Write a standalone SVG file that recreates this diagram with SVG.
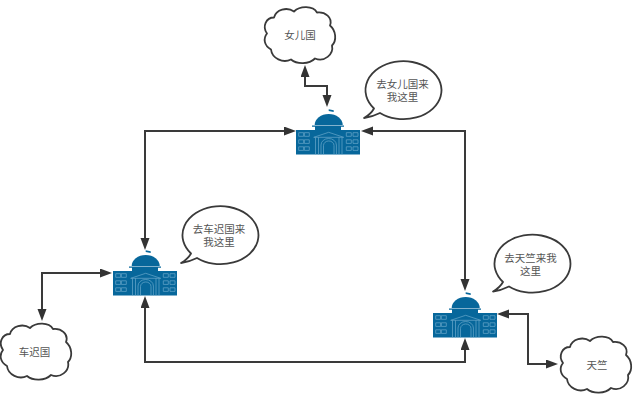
<svg xmlns="http://www.w3.org/2000/svg" xmlns:xlink="http://www.w3.org/1999/xlink" width="636" height="402" viewBox="0 0 636 402">
<style>
text{font-family:"Noto Sans CJK SC","Liberation Sans",sans-serif;font-size:10.500px;fill:#555;text-anchor:middle;dominant-baseline:central}
.shape{fill:#fff;stroke:#3a3a3a;stroke-width:1.800;stroke-linejoin:round}
.conn{fill:none;stroke:#3a3a3a;stroke-width:2;marker-start:url(#arrow);marker-end:url(#arrow)}
.fill{fill:#07679b}
.light{fill:none;stroke:#6aa9cb;stroke-width:.7}
</style>
<defs>
<marker id="arrow" markerUnits="userSpaceOnUse" markerWidth="13" markerHeight="10" refX="3" refY="4.500" orient="auto-start-reverse">
<path d="M0 0L12 4.500L0 9z" fill="#333"/>
</marker>
<g id="building">
<rect class="fill" x="0" y="0" width="64" height="24.500"/>
<path class="fill" d="M18.700 -5A14 11 0 0 1 46.700 -5z"/>
<path class="fill" d="M16 -4.600H48V-3.200H45V0H19V-3.200H16z"/>
<path class="fill" d="M32.700 -20.800L37.700 -19.800V-18L32.700 -19z"/>
<g class="light">
<path d="M2.700 2.700h5v3.600h-5zM8.300 2.700h5v3.600h-5zM2.700 9.800h5v3.600h-5zM8.300 9.800h5v3.600h-5zM2.700 16.800h5v3.600h-5zM8.300 16.800h5v3.600h-5z"/>
<path d="M50.300 2.700h5v3.600h-5zM57 2.700h5v3.600h-5zM50.300 9.800h5v3.600h-5zM57 9.800h5v3.600h-5zM50.300 16.800h5v3.600h-5zM57 16.800h5v3.600h-5z"/>
<path d="M17.700 7.300L32.700 2.300L47.700 7.300zM19.500 7.300V24.500M22.500 7.300V24.500M43 7.300V24.500M46 7.300V24.500"/>
<path d="M25 24.500V15A7.700 6.500 0 0 1 40.400 15V24.500M27.500 24.500V15.500A5.200 4.500 0 0 1 38 15.500V24.500"/>
</g>
</g>
<path id="cloud" class="shape" d="M8 43C1 39 0 32 4 27C-1 20 3 11 11 11C13 3 24 0 31 5C37 -1 50 -1 54 6C62 5 70 11 67 19C73 24 74 34 69 39C71 48 61 56 52 52C46 58 34 58 28 53C20 57 9 52 8 43z"/>
<path id="bubble" class="shape" d="M10 48.500A38 29 0 1 1 16 53Q8 57 0 58Q7 54 10 48.500z"/>
</defs>
<g id="connectors">
<path class="conn" d="M305 74V86H327V98"/>
<path class="conn" d="M287 131H145V241"/>
<path class="conn" d="M370 131H465V282"/>
<path class="conn" d="M145 305V362H465V347"/>
<path class="conn" d="M103 273H42V312"/>
<path class="conn" d="M506 314H528V364H549"/>
</g>
<g id="node-nverguo-cloud"><use href="#cloud" xlink:href="#cloud" x="263" y="6.500"/><text x="300" y="34">女儿国</text></g>
<g id="node-bubble-top"><use href="#bubble" xlink:href="#bubble" x="364" y="60"/><text><tspan x="402.500" y="82.500">去女儿国来</tspan><tspan x="402.500" y="95.500">我这里</tspan></text></g>
<g id="node-building-top"><use href="#building" xlink:href="#building" x="296" y="130"/></g>
<g id="node-bubble-left"><use href="#bubble" xlink:href="#bubble" x="181" y="205"/><text><tspan x="219" y="227.500">去车迟国来</tspan><tspan x="219" y="240.500">我这里</tspan></text></g>
<g id="node-building-left"><use href="#building" xlink:href="#building" x="113" y="271"/></g>
<g id="node-chechiguo-cloud"><use href="#cloud" xlink:href="#cloud" x="-1" y="323"/><text x="34.500" y="351.500">车迟国</text></g>
<g id="node-bubble-right"><use href="#bubble" xlink:href="#bubble" x="493" y="233.500"/><text><tspan x="530.500" y="256.500">去天竺来我</tspan><tspan x="530.500" y="269.500">这里</tspan></text></g>
<g id="node-building-right"><use href="#building" xlink:href="#building" x="433" y="313"/></g>
<g id="node-tianzhu-cloud"><use href="#cloud" xlink:href="#cloud" x="559" y="336"/><text x="597" y="364">天竺</text></g>
</svg>
